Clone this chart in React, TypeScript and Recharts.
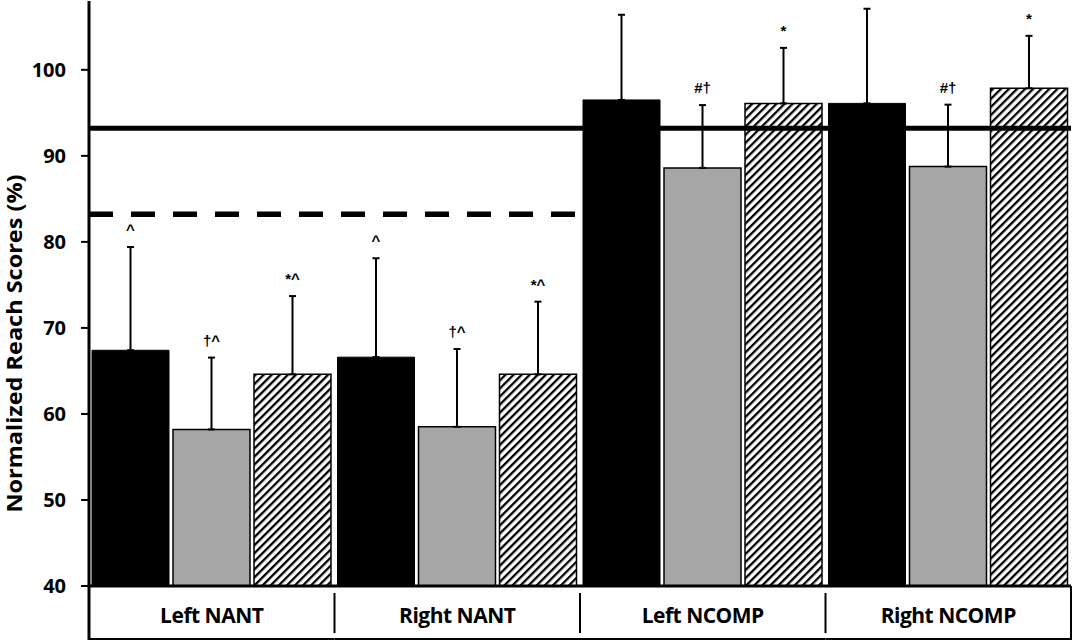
import React from 'react';
import { BarChart, Bar, XAxis, YAxis, ErrorBar, ReferenceLine, LabelList } from 'recharts';

const categories = ['Left NANT', 'Right NANT', 'Left NCOMP', 'Right NCOMP'];
const solidMeans = [67.4, 66.6, 96.5, 96.1];
const solidErr = [12.0, 11.5, 9.9, 11.0];
const grayMeans = [58.2, 58.5, 88.6, 88.75];
const grayErr = [8.35, 9.05, 7.3, 7.2];
const hatchMeans = [64.6, 64.6, 96.1, 97.85];
const hatchErr = [9.1, 8.45, 6.45, 6.1];
const solidMarks = ['^', '^', '', ''];
const grayMarks = ['†^', '†^', '#†', '#†'];
const hatchMarks = ['*^', '*^', '*', '*'];
const yTicks = [40, 50, 60, 70, 80, 90, 100];
const yDomain: [number, number] = [40, 108];
const compThreshold = 93.2;
const nantThreshold = 83.2;

const data = categories.map((name, i) => ({
  name,
  solid: solidMeans[i],
  solidE: [0, solidErr[i]],
  gray: grayMeans[i],
  grayE: [0, grayErr[i]],
  hatch: hatchMeans[i],
  hatchE: [0, hatchErr[i]],
}));

const FONT = "'Open Sans', 'Noto Sans', sans-serif";

const makeMark = (means: number[], errs: number[], marks: string[]) => (props: any) => {
  const index = props.index;
  const text = marks[index];
  if (!text) return null;
  const vb = props.viewBox || {};
  const x = Number(props.x ?? vb.x);
  const y = Number(props.y ?? vb.y);
  const w = Number(props.width ?? vb.width);
  const h = Number(props.height ?? vb.height);
  const pxPerUnit = h / (means[index] - yDomain[0]);
  const top = y - errs[index] * pxPerUnit;
  return (
    <text
      x={x + w / 2}
      y={top - 12}
      textAnchor="middle"
      fontFamily="'Liberation Sans', Arial, sans-serif"
      fontWeight={700}
      fontSize={15}
      fill="#000"
    >
      {text}
    </text>
  );
};

const YTick = (p: any) => (
  <text
    x={p.x}
    y={p.y}
    dy="0.36em"
    textAnchor="end"
    fontFamily={FONT}
    fontWeight={700}
    fontSize={20}
    fill="#000"
  >
    {p.payload.value}
  </text>
);

const CategoryTick = (p: any) => {
  const { x, y, payload, index } = p;
  const n = categories.length;
  const half = payload && payload.offset ? payload.offset : 122.75;
  return (
    <g>
      <text
        x={x}
        y={y + 37}
        textAnchor="middle"
        fontFamily={FONT}
        fontWeight={700}
        fontSize={21}
        letterSpacing={-0.5}
        fill="#000"
      >
        {payload.value}
      </text>
      <line x1={x - half} x2={x + half} y1={y + 53} y2={y + 53} stroke="#000" strokeWidth={2} />
      {index < n - 1 && (
        <line x1={x + half} x2={x + half} y1={y + 7} y2={y + 47} stroke="#000" strokeWidth={2} />
      )}
      {index === 0 && (
        <line x1={x - half} x2={x - half} y1={y - 1} y2={y + 54} stroke="#000" strokeWidth={3} />
      )}
      {index === n - 1 && (
        <line x1={x + half} x2={x + half} y1={y} y2={y + 54} stroke="#000" strokeWidth={2} />
      )}
    </g>
  );
};

const YLabel = (p: any) => {
  const vb = p.viewBox || { x: 0, y: 1, width: 89, height: 585 };
  const cx = vb.x + 14;
  const cy = vb.y + vb.height / 2 + 50;
  return (
    <text
      x={cx}
      y={cy}
      transform={`rotate(-90 ${cx} ${cy})`}
      textAnchor="middle"
      dominantBaseline="central"
      fontFamily={FONT}
      fontWeight={700}
      fontSize={21}
      textLength={338}
      lengthAdjust="spacingAndGlyphs"
      fill="#000"
    >
      Normalized Reach Scores (%)
    </text>
  );
};

const DashedSegment = (p: any) => (
  <line
    x1={p.x1}
    y1={p.y1}
    x2={p.x1 + ((p.x2 - p.x1) * 2) / categories.length}
    y2={p.y2}
    stroke="#000"
    strokeWidth={5.5}
    strokeDasharray="24 18"
  />
);

export default function App() {
  return (
    <div style={{ position: 'absolute', left: 0, top: 0, width: 1077, height: 644, background: '#fff' }}>
      <BarChart
        width={1077}
        height={644}
        data={data}
        margin={{ top: 1, right: 6, bottom: 0, left: 0 }}
        barCategoryGap={3}
        barGap={4}
      >
        <defs>
          <pattern id="hatch" patternUnits="userSpaceOnUse" width={5.7} height={5.7} patternTransform="rotate(45)">
            <rect x={0} y={0} width={5.7} height={5.7} fill="#fff" />
            <rect x={0} y={0} width={2.3} height={5.7} fill="#000" />
          </pattern>
        </defs>
        <XAxis
          dataKey="name"
          height={58}
          interval={0}
          tickSize={0}
          tickMargin={0}
          tickLine={false}
          axisLine={{ stroke: '#000', strokeWidth: 3 }}
          tick={<CategoryTick />}
        />
        <YAxis
          type="number"
          domain={yDomain}
          ticks={yTicks}
          allowDataOverflow
          width={89}
          tickSize={8}
          tickMargin={15}
          axisLine={{ stroke: '#000', strokeWidth: 3 }}
          tickLine={{ stroke: '#000', strokeWidth: 2 }}
          tick={<YTick />}
          label={{ content: <YLabel /> }}
        />
        <Bar dataKey="solid" fill="#000" stroke="#000" strokeWidth={1} isAnimationActive={false}>
          <ErrorBar dataKey="solidE" width={3.5} stroke="#000" strokeWidth={2} direction="y" />
          <LabelList dataKey="solid" content={makeMark(solidMeans, solidErr, solidMarks)} />
        </Bar>
        <Bar dataKey="gray" fill="#a6a6a6" stroke="#000" strokeWidth={1.5} isAnimationActive={false}>
          <ErrorBar dataKey="grayE" width={3.5} stroke="#000" strokeWidth={2} direction="y" />
          <LabelList dataKey="gray" content={makeMark(grayMeans, grayErr, grayMarks)} />
        </Bar>
        <Bar dataKey="hatch" fill="url(#hatch)" stroke="#000" strokeWidth={1.5} isAnimationActive={false}>
          <ErrorBar dataKey="hatchE" width={3.5} stroke="#000" strokeWidth={2} direction="y" />
          <LabelList dataKey="hatch" content={makeMark(hatchMeans, hatchErr, hatchMarks)} />
        </Bar>
        <ReferenceLine y={compThreshold} stroke="#000" strokeWidth={5} />
        <ReferenceLine y={nantThreshold} stroke="#000" strokeWidth={5.5} shape={<DashedSegment />} />
      </BarChart>
    </div>
  );
}
